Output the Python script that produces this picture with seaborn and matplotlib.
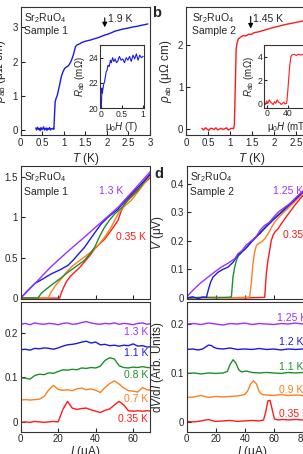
import numpy as np
import pandas as pd
import matplotlib
matplotlib.use("Agg")
import matplotlib.pyplot as plt
from matplotlib.ticker import FuncFormatter
import seaborn as sns

# ----- data -----
# panel a: rho_ab(T), sample 1
T_a = [0.35, 0.37, 0.39, 0.41, 0.43, 0.45, 0.47, 0.49, 0.51, 0.53, 0.55, 0.57, 0.59, 0.61,
       0.63, 0.65, 0.67, 0.69, 0.71, 0.73, 0.75, 0.77, 0.785, 0.80, 0.82, 0.85, 0.90, 0.94,
       0.98, 1.02, 1.06, 1.10, 1.13, 1.16, 1.19, 1.22, 1.25, 1.27, 1.30, 1.33, 1.37, 1.42,
       1.49, 1.55, 1.62, 1.72, 1.80, 1.88, 1.94, 2.02, 2.10, 2.19, 2.28, 2.37, 2.50, 2.60,
       2.70, 2.80, 2.88, 2.95]
rho_a = [0.06, 0.0, 0.08, 0.02, 0.05, -0.02, 0.07, 0.01, 0.04, 0.09, 0.0, 0.03, 0.06, -0.01,
         0.05, 0.02, 0.07, 0.0, 0.04, 0.03, 0.05, 0.02, 0.45, 0.83, 0.92, 1.02, 1.30, 1.55,
         1.70, 1.80, 1.84, 1.87, 1.92, 1.99, 2.08, 2.19, 2.33, 2.43, 2.48, 2.50, 2.52, 2.56,
         2.59, 2.61, 2.63, 2.67, 2.70, 2.74, 2.77, 2.80, 2.84, 2.89, 2.92, 2.95, 2.98, 3.01,
         3.03, 3.06, 3.08, 3.10]

# inset a: R_ab(mu0 H)
H_ai = [0.01, 0.02, 0.03, 0.04, 0.05, 0.07, 0.09, 0.11, 0.13, 0.15, 0.17, 0.20, 0.23, 0.25,
        0.28, 0.31, 0.34, 0.37, 0.40, 0.44, 0.48, 0.52, 0.56, 0.60, 0.64, 0.68, 0.72, 0.76,
        0.80, 0.84, 0.88, 0.92, 0.96, 1.0]
R_ai = [19.9, 20.6, 21.6, 21.2, 21.5, 21.9, 22.1, 22.5, 22.9, 23.0, 23.4, 23.3, 23.8, 23.6,
        24.0, 23.7, 23.9, 23.6, 23.7, 24.1, 23.8, 23.9, 23.6, 24.0, 23.8, 24.1, 23.7, 24.2,
        23.9, 24.3, 23.8, 24.2, 24.0, 24.1]

# panel b: rho_ab(T), sample 2
T_b = [0.36, 0.40, 0.44, 0.48, 0.52, 0.56, 0.60, 0.64, 0.68, 0.72, 0.76, 0.80, 0.84, 0.88,
       0.92, 0.96, 1.00, 1.04, 1.08, 1.10, 1.12, 1.14, 1.16, 1.19, 1.24, 1.30, 1.36, 1.42,
       1.49, 1.55, 1.62, 1.72, 1.82, 1.95, 2.10, 2.25, 2.45, 2.63, 2.80, 3.0]
rho_b = [0.02, -0.02, 0.03, 0.0, -0.03, 0.02, 0.01, -0.01, 0.03, -0.02, 0.0, 0.02, -0.01,
         0.01, 0.03, -0.02, 0.0, 0.02, 0.01, 0.1, 1.0, 1.9, 2.04, 2.14, 2.18, 2.22, 2.21,
         2.25, 2.25, 2.29, 2.30, 2.33, 2.36, 2.40, 2.44, 2.48, 2.52, 2.56, 2.60, 2.64]

# inset b: R_ab(mu0 H) in mT
H_bi = [-5, -2.5, 0, 2.5, 5, 7.5, 10, 12.5, 15, 17.5, 20, 22.5, 25, 27.5, 30, 32.5, 35, 38,
        40, 42, 44, 46, 48, 52, 56, 60, 65, 70, 75, 80, 86]
R_bi = [0.1, -0.1, 0.2, 0.0, 0.3, 0.1, 0.0, -0.1, 0.15, 0.0, 0.3, 0.1, 0.05, -0.1, 0.0, 0.1,
        -0.05, 0.0, 1.0, 2.2, 3.3, 4.0, 4.15, 4.2, 4.1, 4.2, 4.15, 4.2, 4.2, 4.2, 4.25]

# panel c: V(I), sample 1
I_c = {
    "1.3 K": [0, 8, 16, 25, 34, 43, 52, 60, 68, 70],
    "1.1 K": [0, 4, 7.5, 12, 16.3, 21, 25.2, 28, 31, 34.1, 38, 43, 47, 51.9, 56, 60.8, 65, 70],
    "0.8 K": [0, 5, 9.2, 11, 12.8, 16.3, 21, 25.2, 30, 34.1, 37, 39.5, 42, 44.8, 47.5, 50.1,
              54, 57.2, 62, 68.5, 70],
    "0.7 K": [0, 14.6, 16.3, 19, 21.7, 24, 27, 30, 34.1, 38, 41.2, 45, 48.3, 51.9, 55, 59,
              64, 68.5, 70],
    "0.35 K": [0, 20.8, 21.6, 22.6, 24.3, 26.5, 28.8, 31.5, 34.1, 37, 39.5, 42, 44.8, 48,
               51.9, 53.5, 55.5, 58, 60.8, 65, 68.5, 70],
}
V_c = {
    "1.3 K": [0, 0.19, 0.385, 0.575, 0.755, 0.94, 1.126, 1.33, 1.537, 1.59],
    "1.1 K": [0, 0.10, 0.18, 0.24, 0.30, 0.35, 0.405, 0.47, 0.55, 0.63, 0.76, 0.92, 1.01, 1.10,
              1.21, 1.33, 1.43, 1.56],
    "0.8 K": [0, 0.003, 0.0, 0.06, 0.096, 0.16, 0.24, 0.32, 0.40, 0.47, 0.55, 0.63, 0.76, 0.88,
              0.97, 1.04, 1.12, 1.21, 1.32, 1.52, 1.55],
    "0.7 K": [0, 0.0, 0.077, 0.17, 0.24, 0.31, 0.385, 0.44, 0.51, 0.58, 0.65, 0.76, 0.88, 1.04,
              1.13, 1.21, 1.36, 1.50, 1.53],
    "0.35 K": [0, 0.0, 0.06, 0.117, 0.2, 0.27, 0.32, 0.38, 0.45, 0.53, 0.61, 0.67, 0.73, 0.83,
               0.96, 1.07, 1.17, 1.24, 1.31, 1.40, 1.48, 1.51],
}

# panel c bottom: dV/dI, sample 1 (offset curves)
I_c2 = [0, 2.5, 5, 7.5, 10, 12.5, 15, 17.5, 20, 22.5, 25, 27.5, 30, 32.5, 35, 37.5, 40, 42.5,
        45, 47.5, 50, 52.5, 55, 57.5, 60, 62.5, 65, 67.5, 70]
D_c2 = {
    "1.3 K": [0.219, 0.221, 0.218, 0.222, 0.220, 0.219, 0.221, 0.220, 0.218, 0.221, 0.222,
              0.219, 0.220, 0.223, 0.225, 0.222, 0.220, 0.219, 0.221, 0.220, 0.222, 0.219,
              0.221, 0.220, 0.218, 0.221, 0.222, 0.219, 0.221],
    "1.1 K": [0.162, 0.163, 0.161, 0.165, 0.164, 0.166, 0.165, 0.163, 0.166, 0.170, 0.173,
              0.174, 0.176, 0.179, 0.181, 0.177, 0.179, 0.173, 0.174, 0.171, 0.172, 0.170,
              0.172, 0.171, 0.175, 0.170, 0.171, 0.168, 0.169],
    "0.8 K": [0.099, 0.098, 0.096, 0.104, 0.107, 0.106, 0.110, 0.109, 0.113, 0.117, 0.116,
              0.118, 0.117, 0.121, 0.120, 0.122, 0.121, 0.125, 0.138, 0.144, 0.141, 0.126,
              0.122, 0.121, 0.123, 0.122, 0.124, 0.122, 0.121],
    "0.7 K": [0.049, 0.050, 0.049, 0.050, 0.051, 0.057, 0.072, 0.082, 0.073, 0.071, 0.072,
              0.070, 0.074, 0.076, 0.072, 0.074, 0.071, 0.066, 0.077, 0.086, 0.092, 0.085,
              0.076, 0.070, 0.069, 0.067, 0.077, 0.072, 0.071],
    "0.35 K": [-0.001, 0.0, -0.001, 0.001, 0.0, -0.001, 0.0, 0.001, 0.0, 0.028, 0.046, 0.031,
               0.028, 0.030, 0.031, 0.027, 0.024, 0.021, 0.026, 0.029, 0.038, 0.046, 0.038,
               0.025, 0.024, 0.025, 0.024, 0.025, 0.024],
}

# panel d: V(I), sample 2
I_d = {
    "1.25 K": [0, 3, 5.5, 9, 14.7, 19, 23.9, 28, 31, 33.1, 35.4, 38, 41, 44.6, 48, 51, 53.8,
               57, 60, 63, 67, 71, 75, 79.1, 85, 90],
    "1.2 K": [0, 4, 8, 11, 13.6, 15, 16.5, 18.1, 20, 21.6, 25, 28.5, 32, 35.4, 40, 45, 50, 55,
              60, 65, 70, 75, 80, 85, 90],
    "1.1 K": [0, 10, 20, 28, 30.8, 31.9, 33.1, 34.2, 35.4, 38, 42, 46, 50, 55, 60, 65, 70, 75,
              80, 85, 90],
    "0.9 K": [0, 15, 30, 43.4, 44.5, 45.7, 46.8, 48.1, 50, 51.5, 54, 56.1, 58.5, 60.7, 64, 68,
              72, 76, 80, 85, 90],
    "0.35 K": [0, 20, 40, 53.8, 54.9, 56, 57.2, 58.3, 59.5, 61, 63, 65, 67.6, 71, 74.5, 79.1,
               85, 90],
}
V_d = {
    "1.25 K": [0.003, 0.02, 0.033, 0.05, 0.073, 0.09, 0.108, 0.12, 0.13, 0.137, 0.155, 0.165,
               0.185, 0.2, 0.215, 0.24, 0.254, 0.265, 0.283, 0.30, 0.315, 0.33, 0.35, 0.37,
               0.395, 0.42],
    "1.2 K": [0.0, 0.004, -0.002, 0.003, 0.002, 0.03, 0.055, 0.073, 0.082, 0.09, 0.10, 0.108,
              0.125, 0.15, 0.17, 0.198, 0.223, 0.25, 0.275, 0.298, 0.322, 0.345, 0.37, 0.395,
              0.42],
    "1.1 K": [0, 0.002, 0.0, 0.002, 0.003, 0.073, 0.108, 0.13, 0.145, 0.16, 0.18, 0.205,
              0.227, 0.252, 0.277, 0.30, 0.323, 0.347, 0.371, 0.396, 0.42],
    "0.9 K": [0, 0.002, 0.0, 0.003, 0.05, 0.119, 0.16, 0.184, 0.192, 0.196, 0.208, 0.225,
              0.247, 0.266, 0.285, 0.305, 0.325, 0.345, 0.365, 0.39, 0.415],
    "0.35 K": [0, 0.002, 0.0, 0.002, 0.085, 0.13, 0.166, 0.2, 0.219, 0.232, 0.242, 0.258,
               0.277, 0.30, 0.324, 0.353, 0.385, 0.41],
}

# panel d bottom: dV/dI, sample 2
I_d2 = {
    "1.25 K": [0, 5, 10, 15, 20, 25, 30, 35, 40, 45, 50, 55, 60, 65, 70, 75, 80, 85, 90],
    "1.2 K": [0, 4, 8, 11, 13, 15, 17, 19, 21, 25, 30, 35, 40, 45, 50, 55, 60, 65, 70, 75, 80,
              85, 90],
    "1.1 K": [0, 5, 10, 15, 20, 25, 28, 30, 32, 34, 36, 38, 41, 45, 50, 55, 60, 65, 70, 75,
              80, 85, 90],
    "0.9 K": [0, 5, 10, 15, 20, 25, 30, 35, 40, 42, 44, 46, 48, 50, 52, 55, 60, 65, 70, 75,
              80, 85, 90],
    "0.35 K": [0, 5, 10, 15, 17, 20, 25, 30, 35, 40, 45, 50, 53, 54.5, 56, 57.5, 59, 60.5, 63,
               66, 70, 75, 80, 85, 90],
}
D_d2 = {
    "1.25 K": [0.200, 0.201, 0.199, 0.202, 0.200, 0.198, 0.201, 0.200, 0.202, 0.199, 0.201,
               0.200, 0.199, 0.201, 0.200, 0.202, 0.200, 0.201, 0.200],
    "1.2 K": [0.148, 0.149, 0.147, 0.149, 0.153, 0.157, 0.156, 0.152, 0.150, 0.149, 0.151,
              0.148, 0.149, 0.148, 0.150, 0.148, 0.149, 0.147, 0.149, 0.148, 0.149, 0.148,
              0.149],
    "1.1 K": [0.099, 0.100, 0.098, 0.100, 0.099, 0.100, 0.103, 0.118, 0.127, 0.120, 0.106,
              0.102, 0.104, 0.101, 0.100, 0.101, 0.100, 0.099, 0.101, 0.100, 0.101, 0.100,
              0.101],
    "0.9 K": [0.050, 0.051, 0.054, 0.050, 0.052, 0.051, 0.052, 0.053, 0.056, 0.063, 0.077,
              0.084, 0.078, 0.062, 0.056, 0.055, 0.054, 0.056, 0.054, 0.055, 0.054, 0.055,
              0.054],
    "0.35 K": [0.001, 0.0, 0.002, 0.005, 0.003, 0.001, 0.002, 0.003, 0.001, 0.002, 0.003,
               0.002, 0.004, 0.02, 0.043, 0.044, 0.025, 0.006, 0.004, 0.005, 0.004, 0.005,
               0.004, 0.005, 0.004],
}

colors_c = {"1.3 K": "#9b30ff", "1.1 K": "#1a1ae6", "0.8 K": "#1f8f2a",
            "0.7 K": "#ff7f1e", "0.35 K": "#ff1a1a"}
colors_d = {"1.25 K": "#9b30ff", "1.2 K": "#1a1ae6", "1.1 K": "#1f8f2a",
            "0.9 K": "#ff7f1e", "0.35 K": "#ff1a1a"}

# ----- style -----
sns.set_style("ticks")
plt.rcParams["font.family"] = ["Liberation Sans", "DejaVu Sans"]
plt.rcParams["mathtext.fontset"] = "custom"
plt.rcParams["mathtext.rm"] = "Liberation Sans"
plt.rcParams["mathtext.it"] = "Liberation Sans:italic"
plt.rcParams["mathtext.bf"] = "Liberation Sans:bold"
plt.rcParams["axes.linewidth"] = 0.8
plt.rcParams["axes.edgecolor"] = "#333333"

W, H = 303, 454
fig = plt.figure(figsize=(W / 100, H / 100), dpi=100)


def box(x0, y0, x1, y1):
    return [x0 / W, 1 - y1 / H, (x1 - x0) / W, (y1 - y0) / H]


def ptxt(x, y, s, **kw):
    fig.text(x / W, 1 - y / H, s, **kw)


fmt = FuncFormatter(lambda v, p: f"{v:g}")


def style(ax, fs=7):
    ax.tick_params(direction="in", length=3, width=0.8, labelsize=fs, pad=2)
    ax.xaxis.set_major_formatter(fmt)
    ax.yaxis.set_major_formatter(fmt)


def draw(ax, x, y, color, lw=1.0):
    sns.lineplot(x=x, y=y, ax=ax, color=color, lw=lw, sort=False, estimator=None)


# ----- panel a -----
ax_a = fig.add_axes(box(20.7, 7.3, 150, 135))
draw(ax_a, T_a, rho_a, "#1a1ae6")
ax_a.set_xlim(0, 3)
ax_a.set_ylim(-0.146, 3.586)
ax_a.set_xticks([0, 0.5, 1, 1.5, 2, 2.5, 3])
ax_a.set_yticks([0, 1, 2, 3])
style(ax_a)
ax_a.set_xlabel("$T$ (K)", fontsize=8.5, labelpad=2)
ax_a.set_ylabel(r"$\rho_{\rm ab}$ (μΩ cm)", fontsize=8.5, labelpad=3)
ax_a.annotate("", xy=(1.95, 2.92), xytext=(1.95, 3.36),
              arrowprops=dict(arrowstyle="-|>", color="black", lw=0.8, mutation_scale=7))
ax_a.text(2.03, 3.24, "1.9 K", fontsize=7.5, va="center", ha="left")

ax_ai = fig.add_axes(box(99.7, 45, 144, 108.3))
draw(ax_ai, H_ai, R_ai, "#1a1ae6", lw=0.8)
ax_ai.set_xlim(-0.024, 1.02)
ax_ai.set_ylim(20, 25)
ax_ai.set_xticks([0, 0.5, 1])
ax_ai.set_yticks([20, 22, 24])
style(ax_ai, fs=6.2)
ax_ai.tick_params(length=2, pad=1)
ax_ai.set_xlabel("μ$_0H$ (T)", fontsize=7, labelpad=1)
ax_ai.set_ylabel(r"$R_{\rm ab}$ (mΩ)", fontsize=7, labelpad=1)

# ----- panel b -----
ax_b = fig.add_axes(box(186, 7.3, 318, 135))
draw(ax_b, T_b, rho_b, "#ff1a1a")
ax_b.set_xlim(0, 3)
ax_b.set_ylim(-0.14, 2.89)
ax_b.set_xticks([0, 0.5, 1, 1.5, 2, 2.5, 3])
ax_b.set_yticks([0, 1, 2])
style(ax_b)
ax_b.set_xlabel("$T$ (K)", fontsize=8.5, labelpad=2)
ax_b.set_ylabel(r"$\rho_{\rm ab}$ (μΩ cm)", fontsize=8.5, labelpad=3)
ax_b.annotate("", xy=(1.47, 2.32), xytext=(1.47, 2.74),
              arrowprops=dict(arrowstyle="-|>", color="black", lw=0.8, mutation_scale=7))
ax_b.text(1.53, 2.62, "1.45 K", fontsize=7.5, va="center", ha="left")

ax_bi = fig.add_axes(box(264, 45, 312, 108))
draw(ax_bi, H_bi, R_bi, "#ff1a1a", lw=0.8)
ax_bi.set_xlim(-5, 86)
ax_bi.set_ylim(-0.4, 5.0)
ax_bi.set_xticks([0, 40, 80])
ax_bi.set_yticks([0, 2, 4])
style(ax_bi, fs=6.2)
ax_bi.tick_params(length=2, pad=1)
ax_bi.set_xlabel("μ$_0H$ (mT)", fontsize=7, labelpad=1)
ax_bi.set_ylabel(r"$R_{\rm ab}$ (mΩ)", fontsize=7, labelpad=1)

# ----- panel c -----
ax_c = fig.add_axes(box(20.7, 166, 150, 298.5))
for k in ["0.35 K", "0.7 K", "0.8 K", "1.1 K", "1.3 K"]:
    draw(ax_c, I_c[k], V_c[k], colors_c[k])
ax_c.set_xlim(0, 69)
ax_c.set_ylim(-0.005, 1.636)
ax_c.set_xticks([0, 20, 40, 60])
ax_c.set_yticks([0, 0.5, 1, 1.5])
style(ax_c)
ax_c.set_xticklabels([])
ax_c.set_xlabel("")
ax_c.set_ylabel("$V$ (μV)", fontsize=8.5, labelpad=3)
ax_c.text(48.4, 1.33, "1.3 K", color=colors_c["1.3 K"], fontsize=7.5, ha="center", va="center")
ax_c.text(58.6, 0.755, "0.35 K", color=colors_c["0.35 K"], fontsize=7.5, ha="center", va="center")

ax_c2 = fig.add_axes(box(20.7, 302, 150, 431.7))
for k in ["0.35 K", "0.7 K", "0.8 K", "1.1 K", "1.3 K"]:
    draw(ax_c2, I_c2, D_c2[k], colors_c[k])
ax_c2.set_xlim(0, 69)
ax_c2.set_ylim(-0.022, 0.269)
ax_c2.set_xticks([0, 20, 40, 60])
ax_c2.set_yticks([0, 0.1, 0.2])
style(ax_c2)
ax_c2.set_xlabel("$I$ (μA)", fontsize=8.5, labelpad=0)
ax_c2.set_ylabel("d$V$/d$I$ (Arb. Units)", fontsize=8.5, labelpad=3)
for k, yv in zip(["1.3 K", "1.1 K", "0.8 K", "0.7 K", "0.35 K"],
                 [0.2025, 0.154, 0.105, 0.052, 0.007]):
    ax_c2.text(67.9, yv, k, color=colors_c[k], fontsize=7.5, ha="right", va="center")

# ----- panel d -----
ax_d = fig.add_axes(box(186.7, 166, 317.2, 298.5))
for k in ["0.35 K", "0.9 K", "1.1 K", "1.2 K", "1.25 K"]:
    draw(ax_d, I_d[k], V_d[k], colors_d[k])
ax_d.set_xlim(0, 90)
ax_d.set_ylim(-0.002, 0.462)
ax_d.set_xticks([0, 20, 40, 60, 80])
ax_d.set_yticks([0, 0.1, 0.2, 0.3, 0.4])
style(ax_d)
ax_d.set_xticklabels([])
ax_d.set_xlabel("")
ax_d.set_ylabel("$V$ (μV)", fontsize=8.5, labelpad=3)
ax_d.text(59.3, 0.376, "1.25 K", color=colors_d["1.25 K"], fontsize=7.5, ha="left", va="center")
ax_d.text(66.2, 0.219, "0.35 K", color=colors_d["0.35 K"], fontsize=7.5, ha="left", va="center")

ax_d2 = fig.add_axes(box(186.7, 302, 317.2, 431.7))
for k in ["0.35 K", "0.9 K", "1.1 K", "1.2 K", "1.25 K"]:
    draw(ax_d2, I_d2[k], D_d2[k], colors_d[k])
ax_d2.set_xlim(0, 90)
ax_d2.set_ylim(-0.02, 0.245)
ax_d2.set_xticks([0, 20, 40, 60, 80])
ax_d2.set_yticks([0, 0.1, 0.2])
style(ax_d2)
ax_d2.set_xlabel("$I$ (μA)", fontsize=8.5, labelpad=0)
ax_d2.set_ylabel("d$V$/d$I$ (Arb. Units)", fontsize=8.5, labelpad=3)
for k, xv, yv in zip(["1.25 K", "1.2 K", "1.1 K", "0.9 K", "0.35 K"],
                     [62.3, 63.4, 63.4, 63.4, 63.4],
                     [0.212, 0.164, 0.113, 0.065, 0.016]):
    ax_d2.text(xv, yv, k, color=colors_d[k], fontsize=7.5, ha="left", va="center")

# ----- in-panel text and panel letters -----
for x, y, s in [(24.5, 18.3, "Sr$_2$RuO$_4$"), (24.5, 30.5, "Sample 1"),
                (191.5, 18.3, "Sr$_2$RuO$_4$"), (191.5, 30.5, "Sample 2"),
                (23.5, 177.3, "Sr$_2$RuO$_4$"), (23.5, 192.3, "Sample 1"),
                (190.0, 177.3, "Sr$_2$RuO$_4$"), (190.0, 192.3, "Sample 2")]:
    ptxt(x, y, s, fontsize=7.5, ha="left", va="center")
ptxt(157, 13, "b", fontsize=10.5, fontweight="bold", ha="center", va="center")
ptxt(159, 174, "d", fontsize=10.5, fontweight="bold", ha="center", va="center")

fig.savefig("out.png", dpi=100)
